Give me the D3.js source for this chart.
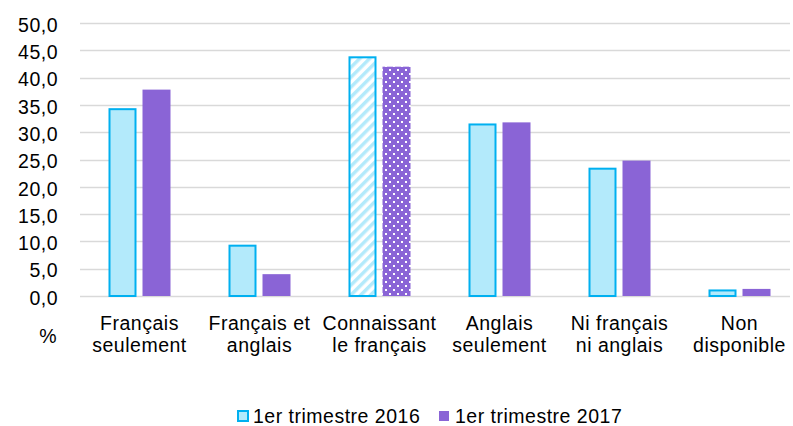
<!DOCTYPE html>
<html>
<head>
<meta charset="utf-8">
<script src="https://cdn.jsdelivr.net/npm/d3@7"></script>
<style>
  body { margin: 0; background: #fff; }
  text { font-family: "Liberation Sans", Arial, sans-serif; fill: #000; }
</style>
</head>
<body>
<script>

var categories = [
  ["Français", "seulement"],
  ["Français et", "anglais"],
  ["Connaissant", "le français"],
  ["Anglais", "seulement"],
  ["Ni français", "ni anglais"],
  ["Non", "disponible"]
]
var values2016 = [34.4, 9.4, 43.9, 31.6, 23.5, 1.2]
var values2017 = [37.8, 4.0, 42.0, 31.8, 24.8, 1.3]
var seriesNames = ["1er trimestre 2016", "1er trimestre 2017"]
var yTicks = [0, 5, 10, 15, 20, 25, 30, 35, 40, 45, 50]

var width = 793, height = 426
var plotLeft = 80, plotRight = 790, plotTop = 23, plotBottom = 296
var fontSize = "19.5px", spacing = "0.5px"

var svg = d3.select("body")
  .append("svg")
    .attr("width", width)
    .attr("height", height)

/******** Patterns *********/
var defs = svg.append("defs")

var hatch = defs.append("pattern")
  .attr("id", "hatch")
  .attr("patternUnits", "userSpaceOnUse")
  .attr("width", 7)
  .attr("height", 7)
  .attr("patternTransform", "rotate(45)")
hatch.append("rect").attr("width", 7).attr("height", 7).attr("fill", "#fff")
hatch.append("rect").attr("width", 3.5).attr("height", 7).attr("fill", "#B3EAFB")

var dots = defs.append("pattern")
  .attr("id", "dots")
  .attr("patternUnits", "userSpaceOnUse")
  .attr("width", 8)
  .attr("height", 8)
dots.append("rect").attr("width", 8).attr("height", 8).attr("fill", "#8A64D6")
dots.append("rect").attr("x", 1).attr("y", 1).attr("width", 2).attr("height", 2).attr("fill", "#fff")
dots.append("rect").attr("x", 5).attr("y", 5).attr("width", 2).attr("height", 2).attr("fill", "#fff")

/******** Scales *********/
// categories sit on a 120px step, slightly wider than the drawn grid
var x = d3.scaleBand()
  .domain(d3.range(categories.length))
  .range([79.5, 799.5])

var y = d3.scaleLinear()
  .domain([0, 50])
  .range([plotBottom, plotTop])

/******** Grid *********/
svg.append("g")
  .selectAll("line")
  .data(yTicks)
  .enter()
  .append("line")
    .attr("x1", plotLeft)
    .attr("x2", plotRight)
    .attr("y1", function(d){ return Math.round(y(d)) + 0.5 })
    .attr("y2", function(d){ return Math.round(y(d)) + 0.5 })
    .attr("stroke", "#D9D9D9")
    .attr("stroke-width", 1.5)

var yAxis = d3.axisLeft(y)
  .tickValues(yTicks)
  .tickSize(0)
  .tickPadding(22)
  .tickFormat(function(d){ return d3.format(".1f")(d).replace(".", ",") })

svg.append("g")
  .attr("transform", "translate(" + plotLeft + ",0)")
  .call(yAxis)
  .call(function(g){ g.select(".domain").remove() })
  .selectAll("text")
    .attr("font-size", fontSize)
    .attr("letter-spacing", spacing)
    .attr("font-family", "Liberation Sans, Arial, sans-serif")
    .attr("fill", "#000")
    .attr("dy", "0.42em")

/******** Bars *********/
var barW = 28, gap = 6

function fill2016(d, i){ return i === 2 ? "url(#hatch)" : "#B3EAFB" }
function fill2017(d, i){ return i === 2 ? "url(#dots)" : "#8A64D6" }

svg.append("g")
  .selectAll("rect")
  .data(values2016)
  .enter()
  .append("rect")
    .attr("x", function(d, i){ return x(i) + x.bandwidth() / 2 - gap / 2 - barW + 1 })
    .attr("y", function(d){ return y(d) + 1 })
    .attr("width", barW - 2)
    .attr("height", function(d){ return y(0) - y(d) - 1 })
    .attr("fill", fill2016)
    .attr("stroke", "#00B0F0")
    .attr("stroke-width", 2)

svg.append("g")
  .selectAll("rect")
  .data(values2017)
  .enter()
  .append("rect")
    .attr("x", function(d, i){ return x(i) + x.bandwidth() / 2 + gap / 2 })
    .attr("y", function(d){ return y(d) })
    .attr("width", barW)
    .attr("height", function(d){ return y(0) - y(d) })
    .attr("fill", fill2017)

/******** Category labels *********/
var catLabels = svg.append("g")
  .selectAll("text")
  .data(categories)
  .enter()
  .append("text")
    .attr("text-anchor", "middle")
    .attr("font-size", fontSize)
    .attr("letter-spacing", spacing)
    .attr("x", function(d, i){ return x(i) + x.bandwidth() / 2 })
    .attr("y", 330)

catLabels.append("tspan")
  .text(function(d){ return d[0] })
catLabels.append("tspan")
  .attr("x", function(d, i){ return x(i) + x.bandwidth() / 2 })
  .attr("dy", 22)
  .text(function(d){ return d[1] })

svg.append("text")
  .attr("x", 48)
  .attr("y", 343)
  .attr("text-anchor", "middle")
  .attr("font-size", fontSize)
  .text("%")

/******** Legend *********/
var legendX = [237, 439]
var legend = svg.append("g")
  .selectAll("g")
  .data(seriesNames)
  .enter()
  .append("g")
    .attr("transform", function(d, i){ return "translate(" + legendX[i] + ",410)" })

legend.append("rect")
  .attr("x", function(d, i){ return i === 0 ? 1 : 0 })
  .attr("y", 1)
  .attr("width", 10)
  .attr("height", 10)
  .attr("fill", function(d, i){ return i === 0 ? "#B3EAFB" : "#8A64D6" })
  .attr("stroke", function(d, i){ return i === 0 ? "#00B0F0" : "none" })
  .attr("stroke-width", 2)

legend.append("text")
  .attr("x", 16)
  .attr("y", 12.5)
  .attr("font-size", fontSize)
  .attr("letter-spacing", spacing)
  .text(function(d){ return d })

</script>
</body>
</html>
